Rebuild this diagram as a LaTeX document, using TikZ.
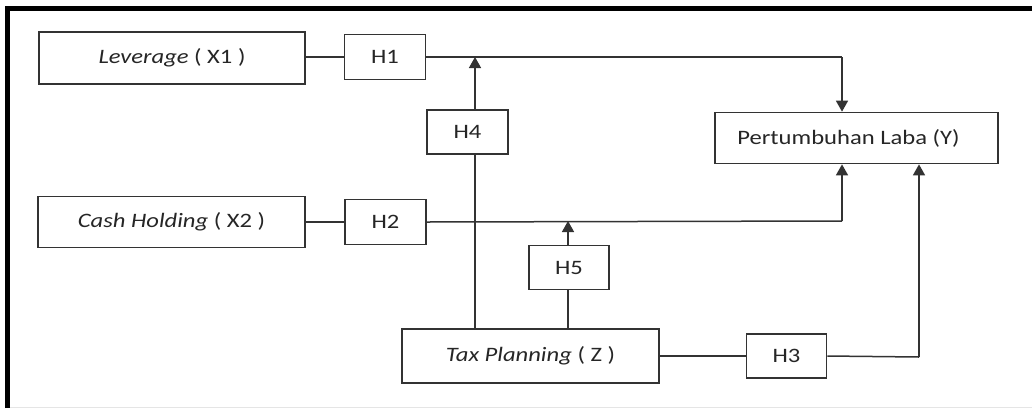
\documentclass[tikz,border=0pt]{standalone}
\usepackage{fontspec}
\setmainfont[FakeStretch=1.2]{Carlito}
\usetikzlibrary{arrows.meta}
\definecolor{ln}{HTML}{333333}
\begin{document}
\begin{tikzpicture}[x=1pt,y=-1pt,
  box/.style={draw=ln,line width=1.7pt,rectangle,inner sep=0pt,text=black!85,
    font=\fontsize{20.5}{23}\selectfont},
  conn/.style={draw=ln,line width=1.5pt},
  arr/.style={conn,-{Triangle[width=12pt,length=11pt]}}]
\useasboundingbox (0,0) rectangle (1032,408);
\fill[white] (0,0) rectangle (1032,408);
% frame
\draw[line width=4.5pt,black] (7.5,408) -- (7.5,8.7) -- (1032,8.7);
\draw[black!10,line width=1pt] (10,407) -- (1032,407);
% nodes
\node[box,minimum width=266pt,minimum height=52pt] (lev) at (172,58) {\textit{Leverage} ( X1 )};
\node[box,minimum width=81pt,minimum height=45pt] (h1) at (385,57) {H1};
\node[box,minimum width=81pt,minimum height=44pt] (h4) at (467.5,132) {H4};
\node[box,minimum width=267pt,minimum height=51pt] (cash) at (171.5,222) {\textit{Cash Holding} ( X2 )};
\node[box,minimum width=81pt,minimum height=45pt] (h2) at (385.5,222) {H2};
\node[box,minimum width=257pt,minimum height=54pt] (tax) at (530.5,356) {\textit{Tax Planning} ( Z )};
\node[box,minimum width=283pt,minimum height=51pt] (y) at (856.5,138) {\hspace*{-16pt}Pertumbuhan Laba (Y)};
\node[box,minimum width=80pt,minimum height=44pt] (h5) at (569,267.5) {H5};
\node[box,minimum width=80pt,minimum height=44pt] (h3) at (786.5,356) {H3};
% helper coordinates
\coordinate (c1) at (842,57);
\coordinate (c4) at (475,57);
\coordinate (c2) at (842,221);
\coordinate (c5) at (568,221);
\coordinate (c3) at (919,357);
% connectors
\draw[conn] (lev.east |- h1) -- (h1.west);
\draw[conn] (h1.east) -- (c1);
\draw[arr] (c1) -- (y.north -| c1);
\draw[conn] (tax.north -| c4) -- (h4.south -| c4);
\draw[arr] (h4.north -| c4) -- (c4);
\draw[conn] (cash.east |- h2) -- (h2.west);
\draw[conn] (h2.east) -- (c2);
\draw[arr] (c2) -- (y.south -| c2);
\draw[conn] (tax.north -| c5) -- (h5.south -| c5);
\draw[arr] (h5.north -| c5) -- (c5);
\draw[conn] (tax.east) -- (h3.west);
\draw[conn] (h3.east) -- (c3);
\draw[arr] (c3) -- (y.south -| c3);
\end{tikzpicture}
\end{document}
